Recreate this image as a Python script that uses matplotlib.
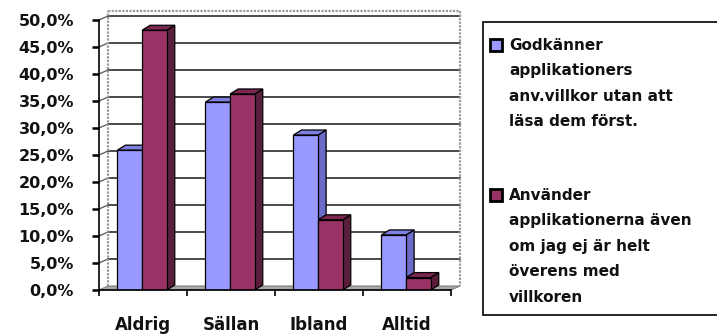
import matplotlib
matplotlib.use('Agg')
import matplotlib.pyplot as plt
from matplotlib.patches import Polygon, Rectangle
import numpy as np

# survey answers, share of respondents in percent
categories = ['Aldrig', 'Sällan', 'Ibland', 'Alltid']
godkanner = [25.9, 34.8, 28.7, 10.2]
anvander = [48.1, 36.3, 13.0, 2.3]
series_names = ['Godkänner\napplikationers\nanv.villkor utan att\nläsa dem först.',
                'Använder\napplikationerna även\nom jag ej är helt\növerens med\nvillkoren']
yticks = [0, 5, 10, 15, 20, 25, 30, 35, 40, 45, 50]

W, H = 717, 334
FONT = 'DejaVu Sans'

# face colours: front, side, top
blue = ('#9999ff', '#6b6bc8', '#7f7fe0')
wine = ('#993366', '#5c1e3d', '#7a2850')

fig = plt.figure(figsize=(W / 100, H / 100), dpi=100)
ax = fig.add_axes([99 / W, 44 / H, 352 / W, 270 / H])
ax.set_xlim(0, 4)
ax.set_ylim(0, 50)

# pixel scales of the axes
pxx = 1 / 88.0
pxy = 1 / 5.4

# back wall and floor, shifted for depth
wdx, wdy = 9 * pxx, 4 * pxy
ax.add_patch(Polygon([(0, 0), (4, 0), (4 + wdx, wdy), (wdx, wdy)],
                     closed=True, facecolor='#a8a8a8', edgecolor='#808080',
                     lw=0.8, clip_on=False, zorder=1))
for v in yticks[1:]:
    ax.plot([wdx, 4 + wdx], [v + wdy, v + wdy], color='#1a1a1a', lw=1.1,
            clip_on=False, zorder=1)
    ax.plot([0, wdx], [v, v + wdy], color='#555555', lw=0.9,
            clip_on=False, zorder=1)
ax.plot([wdx, 4 + wdx, 4 + wdx], [50 + wdy + 1, 50 + wdy + 1, wdy],
        color='#9a9a9a', lw=1.6, ls=(0, (1, 0.6)), clip_on=False, zorder=1)
ax.plot([wdx, wdx], [wdy, 50 + wdy + 1], color='#9a9a9a', lw=1.6,
        ls=(0, (1, 0.6)), clip_on=False, zorder=1)

# 3D-looking columns: front face from ax.bar, side and top faces added
bw = 0.28
bdx, bdy = 8 * pxx, 5 * pxy
x = np.arange(len(categories))


def columns(left, vals, cols):
    bars = ax.bar(left, vals, width=bw, align='edge', color=cols[0],
                  edgecolor='black', lw=0.9, zorder=3)
    for b in bars:
        x0, x1, v = b.get_x(), b.get_x() + b.get_width(), b.get_height()
        ax.add_patch(Polygon([(x1, 0), (x1, v), (x1 + bdx, v + bdy), (x1 + bdx, bdy)],
                             closed=True, facecolor=cols[1], edgecolor='black',
                             lw=0.9, clip_on=False, zorder=2.5))
        ax.add_patch(Polygon([(x0, v), (x1, v), (x1 + bdx, v + bdy), (x0 + bdx, v + bdy)],
                             closed=True, facecolor=cols[2], edgecolor='black',
                             lw=0.9, clip_on=False, zorder=2.5))
    return bars


columns(x + 0.49 - bw, godkanner, blue)
columns(x + 0.49, anvander, wine)

# axes lines and ticks
for s in ['top', 'right']:
    ax.spines[s].set_visible(False)
ax.spines['left'].set_linewidth(1.2)
ax.spines['bottom'].set_linewidth(1.2)
ax.spines['left'].set_zorder(4)
ax.spines['bottom'].set_zorder(4)

ax.set_yticks(yticks)
ax.yaxis.set_major_formatter(plt.FuncFormatter(lambda v, p: ('%.1f%%' % v).replace('.', ',')))
ax.tick_params(axis='y', direction='out', length=5, width=1.8, pad=13,
               labelsize=11.5)

ax.set_xticks(x + 0.5)
ax.set_xticklabels(categories)
ax.set_xticks(np.arange(0, 5), minor=True)
ax.tick_params(axis='x', which='major', length=0, pad=19, labelsize=12)
ax.tick_params(axis='x', which='minor', direction='out', length=4, width=1.2)
for lab in ax.get_xticklabels() + ax.get_yticklabels():
    lab.set_fontweight('bold')
    lab.set_family(FONT)
    lab.set_color('#111111')


# legend box on the right
def fpt(px, py):
    return px / W, 1 - py / H


lx0, ly0 = fpt(483, 315)
lx1, ly1 = fpt(740, 22)
fig.patches.append(Rectangle((lx0, ly0), lx1 - lx0, ly1 - ly0,
                             transform=fig.transFigure, facecolor='white',
                             edgecolor='black', lw=1.2, clip_on=False))
for name, cols, ytop in zip(series_names, [blue, wine], [45, 195]):
    mx, my = fpt(490, ytop + 6)
    fig.patches.append(Rectangle((mx, my), 12 / W, 12 / H,
                                 transform=fig.transFigure,
                                 facecolor=cols[0], edgecolor='black',
                                 lw=2))
    for k, line in enumerate(name.split('\n')):
        tx, ty = fpt(509, ytop + 25.5 * k)
        fig.text(tx, ty, line, fontsize=11, fontweight='bold', family=FONT,
                 color='#111111', va='center', ha='left')

fig.savefig('out.png', dpi=100)
